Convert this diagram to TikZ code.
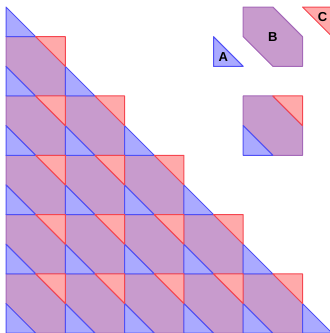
\documentclass[tikz,border=0pt]{standalone}
\usepackage{fontspec}
\setmainfont{Liberation Sans}
\definecolor{bfill}{RGB}{170,170,255}
\definecolor{rfill}{RGB}{255,170,170}
\definecolor{pfill}{RGB}{200,155,205}
\definecolor{bline}{RGB}{80,80,245}
\definecolor{rline}{RGB}{245,70,80}
\definecolor{pline}{RGB}{165,105,185}
\tikzset{
  bpiece/.style={fill=pfill, draw=pline, line width=1pt, line join=round},
  apiece/.style={fill=bfill, draw=bline, line width=1pt, line join=round},
  cpiece/.style={fill=rfill, draw=rline, line width=1pt, line join=round},
  lbl/.style={font=\bfseries\fontsize{13}{13}\selectfont, text=black, inner sep=0pt}
}
\def\s{59.3}
\def\h{29.65}
\newcommand\Bpc[2]{\draw[bpiece, shift={(#1,#2)}] (0,0) -- (\h,0) -- (\s,\h) -- (\s,\s) -- (\h,\s) -- (0,\h) -- cycle;}
\newcommand\Apc[2]{\draw[apiece, shift={(#1,#2)}] (0,\h) -- (0,\s) -- (\h,\s) -- cycle;}
\newcommand\Cpc[2]{\draw[cpiece, shift={(#1,#2)}] (\h,0) -- (\s,0) -- (\s,\h) -- cycle;}
\begin{document}
\begin{tikzpicture}[x=1pt,y=-1pt]
\useasboundingbox (0,0) rectangle (330,333);
% big triangle: middle pieces
\foreach \r in {0,...,4}{
  \foreach \c in {0,...,\r}{
    \pgfmathsetmacro\xx{6+\c*\s}
    \pgfmathsetmacro\yy{36.65+\r*\s}
    \Bpc{\xx}{\yy}
  }
}
% blue corner pieces
\foreach \r in {-1,...,4}{
  \pgfmathtruncatemacro\m{\r+1}
  \foreach \c in {0,...,\m}{
    \pgfmathsetmacro\xx{6+\c*\s}
    \pgfmathsetmacro\yy{36.65+\r*\s}
    \Apc{\xx}{\yy}
  }
}
% red corner pieces
\foreach \r in {0,...,4}{
  \foreach \c in {0,...,\r}{
    \pgfmathsetmacro\xx{6+\c*\s}
    \pgfmathsetmacro\yy{36.65+\r*\s}
    \Cpc{\xx}{\yy}
  }
}
% assembled cell
\pgfmathsetmacro\xx{6+4*\s}
\pgfmathsetmacro\yy{36.65+\s}
\Bpc{\xx}{\yy}
\Apc{\xx}{\yy}
\Cpc{\xx}{\yy}
% exploded pieces
\pgfmathsetmacro\xa{6+3.5*\s}
\pgfmathsetmacro\xb{6+4*\s}
\pgfmathsetmacro\xc{6+4.5*\s}
\Apc{\xa}{7}
\Bpc{\xb}{7}
\Cpc{\xc}{7}
\node[lbl] (la) at (223.2,56.6) {A};
\node[lbl] (lb) at (272.8,37.2) {B};
\node[lbl] (lc) at (322.6,17.2) {C};
\end{tikzpicture}
\end{document}
